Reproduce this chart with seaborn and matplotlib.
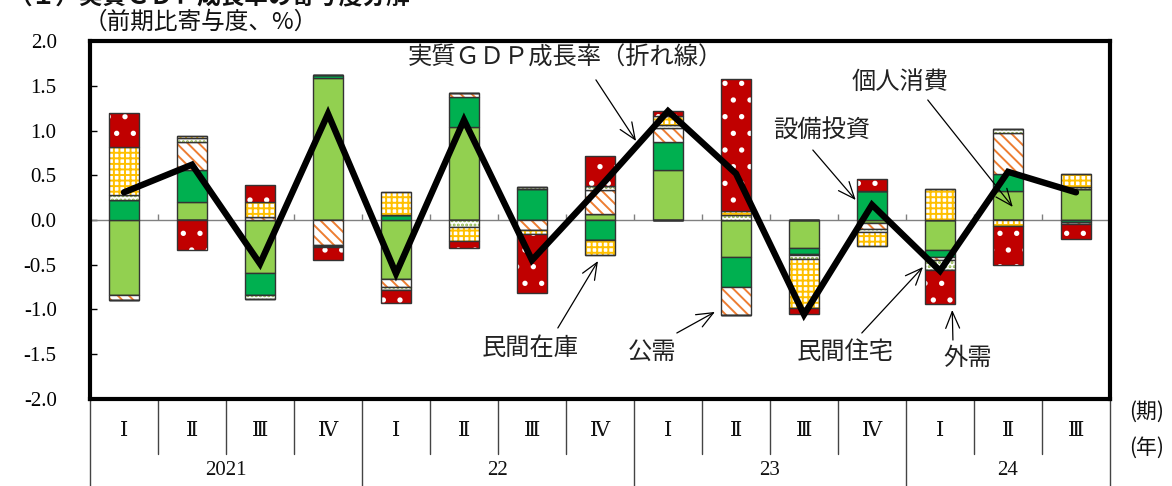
import numpy as np
import matplotlib
matplotlib.use("Agg")
import matplotlib.pyplot as plt
import seaborn as sns

# ---- data -------------------------------------------------------------
years = ["2021", "22", "23", "24"]
quarters_per_year = [4, 4, 4, 3]
quarter_names = ["Ⅰ", "Ⅱ", "Ⅲ", "Ⅳ"]

# contributions to q/q real GDP growth (percentage points)
private_consumption = [-0.84, 0.20, -0.59, 1.59, -0.66, 1.045, 0.00, 0.07, 0.56, -0.42, -0.315, -0.03, -0.34, 0.33, 0.35]
business_investment = [0.22, 0.355, -0.25, 0.03, 0.06, 0.33, 0.35, -0.22, 0.31, -0.335, -0.07, 0.325, -0.08, 0.19, -0.02]
public_demand = [-0.06, 0.32, 0.03, -0.28, -0.09, 0.045, -0.11, 0.27, 0.16, -0.31, -0.01, -0.07, -0.03, 0.455, -0.02]
private_housing = [0.06, 0.04, -0.04, -0.01, -0.03, -0.08, 0.02, 0.04, 0.04, 0.06, -0.045, -0.04, -0.11, 0.04, 0.025]
private_inventory = [0.54, 0.03, 0.17, -0.01, 0.255, -0.15, -0.05, -0.17, 0.10, 0.04, -0.55, -0.15, 0.35, -0.065, 0.14]
net_exports = [0.38, -0.34, 0.19, -0.15, -0.15, -0.08, -0.655, 0.34, 0.055, 1.485, -0.06, 0.13, -0.38, -0.44, -0.17]

# real GDP growth rate (line)
gdp_growth = [0.31, 0.62, -0.49, 1.19, -0.60, 1.12, -0.45, 0.37, 1.22, 0.52, -1.06, 0.17, -0.57, 0.54, 0.31]

series_names = ["個人消費", "設備投資", "公需", "民間住宅", "民間在庫", "外需"]
series_values = [private_consumption, business_investment, public_demand,
                 private_housing, private_inventory, net_exports]

# ---- styling ----------------------------------------------------------
sns.set_theme(style="white")
plt.rcParams["font.family"] = ["Noto Sans CJK JP", "DejaVu Sans"]
plt.rcParams["hatch.linewidth"] = 1.4

styles = {
    "個人消費": dict(face="#92D050", hatch=None, hcol=None),
    "設備投資": dict(face="#00B050", hatch=None, hcol=None),
    "公需": dict(face="white", hatch="\\\\\\", hcol="#ED7D31"),
    "民間住宅": dict(face="white", hatch="....", hcol="#8DB548"),
    "民間在庫": dict(face="white", hatch="+++", hcol="#FFC000"),
    "外需": dict(face="#C00000", hatch=".", hcol="white"),
}
EDGE = "#333333"
BAR_W = 0.44

W, H = 1172, 486
fig = plt.figure(figsize=(W / 100, H / 100), dpi=100)
ax = fig.add_axes([90 / W, (H - 398.5) / H, 1020 / W, 357 / H])

periods = []
for y, nq in zip(years, quarters_per_year):
    for q in quarter_names[:nq]:
        periods.append(f"{y}{q}")
n = len(periods)


def draw_segment(heights, bottoms, st):
    common = dict(x=periods, y=list(heights), order=periods, bottom=bottoms,
                  width=BAR_W, errorbar=None, ax=ax, zorder=2)
    if st["hatch"]:
        sns.barplot(**common, color=st["face"], saturation=1,
                    hatch=st["hatch"], edgecolor=st["hcol"], linewidth=0)
    else:
        sns.barplot(**common, color=st["face"], saturation=1,
                    edgecolor=st["face"], linewidth=0)
    sns.barplot(**common, fill=False, color=EDGE, linewidth=1.0)


pos_base = np.zeros(n)
neg_base = np.zeros(n)
for name, vals in zip(series_names, series_values):
    v = np.asarray(vals, dtype=float)
    pos = np.clip(v, 0, None)
    neg = np.clip(v, None, 0)
    draw_segment(pos, pos_base.copy(), styles[name])
    draw_segment(neg, neg_base.copy(), styles[name])
    pos_base += pos
    neg_base += neg

# zero line with small ticks at the period boundaries
ax.axhline(0, color="#808080", lw=1.0, zorder=1.5)
ax.vlines(np.arange(0.5, n - 0.5), 0, 0.07, color="#808080", lw=1.0, zorder=1.5)

# growth-rate line
sns.lineplot(x=np.arange(n), y=gdp_growth, color="black", linewidth=4.6,
             ax=ax, zorder=5, solid_joinstyle="miter", solid_capstyle="round")

# axes
ax.set_xlim(-0.5, n - 0.5)
ax.set_ylim(-2.0, 2.0)
ax.set_xticks([])
ax.set_xlabel("")
ax.set_ylabel("")
yt = np.arange(-2.0, 2.01, 0.5)
ax.set_yticks(yt)
ax.set_yticklabels([f"{t:.1f}" for t in yt])
ax.tick_params(axis="y", direction="in", length=5, width=1, pad=24, left=True,
               colors="black", labelsize=15, labelfontfamily="Liberation Serif")
for s in ax.spines.values():
    s.set_visible(True)
    s.set_color("black")
    s.set_linewidth(3.0)

# period / year table under the plot
tr = ax.get_xaxis_transform()
year_edges = list(np.cumsum([0] + quarters_per_year) - 0.5)
for k in range(n + 1):
    xb = k - 0.5
    depth = -0.26 if xb in year_edges else -55 / 357
    ax.plot([xb, xb], [0, depth], transform=tr, clip_on=False, color="#444444", lw=1.0)

q_idx = 0
for y, nq in zip(years, quarters_per_year):
    for q in quarter_names[:nq]:
        ax.text(q_idx, -32 / 357, q, transform=tr, ha="center", va="center",
                fontsize=15, family=["DejaVu Serif", "Noto Sans CJK JP"], color="#111111")
        q_idx += 1
for y, lo, hi in zip(years, year_edges[:-1], year_edges[1:]):
    ax.text((lo + hi) / 2, -72 / 357, y, transform=tr, ha="center", va="center",
            fontsize=15, family="Liberation Serif", color="#111111")

fig.text(1147 / W, 1 - 412 / H, "(期)", ha="center", va="center", fontsize=15, color="#111111")
fig.text(1147 / W, 1 - 448 / H, "(年)", ha="center", va="center", fontsize=15, color="#111111")
fig.text(84 / W, 1 - 22 / H, "（前期比寄与度、%）", ha="left", va="center", fontsize=17, color="#111111")
fig.text(8 / W, 1 - 4 / H, "（１）実質ＧＤＰ成長率の寄与度分解", ha="left", va="baseline",
         fontsize=17, fontweight="bold", color="#111111")

# labels with arrows
arrow_kw = dict(arrowstyle="->,head_length=0.6,head_width=0.25", lw=0.9, color="black",
                shrinkA=0, shrinkB=0, mutation_scale=20)
notes = [
    ("実質ＧＤＰ成長率（折れ線）", (6.485, 1.815), (6.94, 1.57), (7.53, 0.885)),
    ("個人消費", (11.41, 1.546), (11.82, 1.345), (13.07, 0.146)),
    ("設備投資", (10.26, 0.997), (10.13, 0.784), (10.76, 0.224)),
    ("民間在庫", (5.97, -1.434), (6.38, -1.21), (6.97, -0.46)),
    ("公需", (7.76, -1.479), (8.13, -1.266), (8.69, -1.03)),
    ("民間住宅", (10.60, -1.479), (10.85, -1.266), (11.75, -0.527)),
    ("外需", (12.40, -1.546), (12.19, -1.345), (12.18, -1.008)),
]
for label, txt_xy, start, tip in notes:
    ax.text(*txt_xy, label, ha="center", va="center", fontsize=17.5, color="#222222", zorder=6)
    ax.annotate("", xy=tip, xytext=start, arrowprops=arrow_kw, zorder=6)

fig.savefig("out.png", dpi=100)
